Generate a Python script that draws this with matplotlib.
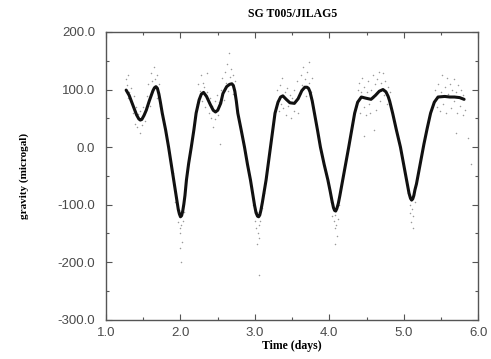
import numpy as np
import matplotlib.pyplot as plt
from matplotlib.ticker import MultipleLocator, FormatStrFormatter

# smoothed gravity curve (time in days, microgal)
curve_t = [1.27, 1.31, 1.36, 1.41, 1.44, 1.46, 1.48, 1.51, 1.54, 1.58, 1.63, 1.65, 1.67,
           1.69, 1.71, 1.73, 1.755,
           1.80, 1.84, 1.88, 1.91, 1.94, 1.955, 1.97, 1.985, 2.00, 2.015, 2.03, 2.045,
           2.06, 2.08, 2.11,
           2.145, 2.18, 2.21, 2.25, 2.28, 2.31, 2.35, 2.40, 2.44, 2.47, 2.50, 2.54, 2.57,
           2.62, 2.66, 2.69, 2.71, 2.73, 2.75, 2.77, 2.815, 2.86, 2.90, 2.94, 2.975, 2.995,
           3.015, 3.035, 3.05, 3.065, 3.08, 3.10, 3.125, 3.15, 3.18, 3.21, 3.24, 3.27,
           3.31, 3.345, 3.375, 3.42,
           3.47, 3.53, 3.58, 3.63, 3.67, 3.70, 3.72, 3.74, 3.77, 3.80, 3.84, 3.88, 3.93,
           3.98, 4.01, 4.035, 4.055, 4.07, 4.085, 4.10, 4.12, 4.14, 4.16, 4.18, 4.22,
           4.26, 4.30, 4.34, 4.38, 4.43,
           4.49, 4.56, 4.62, 4.67, 4.72, 4.76, 4.79, 4.81, 4.85, 4.90, 4.955, 5.005,
           5.04, 5.07, 5.09, 5.105, 5.12, 5.135, 5.15, 5.17, 5.19, 5.23, 5.27, 5.315,
           5.36, 5.41, 5.46, 5.55, 5.62, 5.68, 5.75, 5.81]
curve_g = [99, 90, 73, 56, 49, 47, 48, 55, 64, 80, 98, 103, 105,
           102, 92, 78, 59,
           30, 0, -33, -57, -83, -96, -108, -116, -121, -119, -111, -99,
           -84, -57, -28,
           0, 30, 59, 82, 92, 95, 88, 74, 64, 61, 64, 76, 93,
           105, 109, 110, 107, 97, 80, 59, 30, 0, -30, -57, -85, -101,
           -114, -120, -121, -118, -110, -96, -76, -57, -28, 0, 30, 59,
           78, 87, 89, 83,
           77, 76, 84, 98, 104, 104, 102, 96, 80, 59, 30, 0, -30,
           -57, -76, -93, -105, -110, -111, -107, -98, -85, -71, -57, -28,
           0, 30, 59, 78, 87,
           85, 83, 90, 97, 100, 96, 88, 80, 59, 30, 0, -35,
           -60, -80, -89, -92, -90, -84, -74, -64, -50, -22, 5, 33,
           59, 78, 87, 88, 87, 87, 86, 83]

# raw observations (faint dots)
dot_t = [1.27, 1.28, 1.29, 1.30, 1.31, 1.33, 1.34, 1.36, 1.37, 1.39, 1.40, 1.42, 1.43,
         1.45, 1.46, 1.48, 1.50, 1.52, 1.55, 1.57, 1.59, 1.61, 1.62, 1.64, 1.66, 1.68,
         1.69, 1.71, 1.73,
         1.90, 1.93, 1.96, 1.98, 1.99, 2.00, 2.01, 2.02, 2.00, 2.01, 2.03, 2.05,
         2.22, 2.24, 2.26, 2.27, 2.29, 2.30, 2.32, 2.33, 2.35, 2.36, 2.38, 2.40, 2.41,
         2.43, 2.44, 2.46, 2.47, 2.49, 2.51, 2.52, 2.54, 2.56, 2.58, 2.60, 2.61, 2.63,
         2.64, 2.65, 2.66, 2.68, 2.70, 2.71, 2.73, 2.75, 2.53,
         2.98, 3.00, 3.02, 3.03, 3.04, 3.05, 3.06, 3.07, 3.09, 3.03, 3.05, 3.12,
         3.30, 3.32, 3.34, 3.35, 3.37, 3.38, 3.40, 3.42, 3.43, 3.45, 3.47, 3.48, 3.50,
         3.52, 3.53, 3.55, 3.57, 3.58, 3.60, 3.62, 3.63, 3.65, 3.67, 3.68, 3.70, 3.72,
         3.73, 3.75, 3.77,
         4.02, 4.04, 4.06, 4.07, 4.08, 4.09, 4.10, 4.11, 4.13, 4.08,
         4.36, 4.38, 4.40, 4.41, 4.43, 4.44, 4.46, 4.47, 4.49, 4.50, 4.52, 4.53, 4.55,
         4.56, 4.58, 4.59, 4.61, 4.62, 4.64, 4.65, 4.67, 4.68, 4.70, 4.72, 4.73, 4.75,
         4.77, 4.79, 4.82, 4.60, 4.47,
         5.06, 5.08, 5.09, 5.10, 5.11, 5.12, 5.13, 5.15,
         5.42, 5.44, 5.46, 5.48, 5.50, 5.51, 5.53, 5.55, 5.57, 5.58, 5.60, 5.62, 5.63,
         5.65, 5.67, 5.68, 5.70, 5.72, 5.73, 5.75, 5.77, 5.79, 5.80, 5.82, 5.70, 5.86,
         5.90]
dot_g = [118, 108, 85, 125, 95, 78, 102, 60, 88, 40, 70, 35, 58,
         25, 62, 38, 70, 45, 88, 110, 72, 128, 115, 140, 118, 125,
         85, 110, 72,
         -45, -95, -130, -110, -140, -150, -135, -165, -175, -200, -128, -112,
         75, 110, 98, 125, 80, 112, 105, 70, 95, 128, 60, 85, 50,
         72, 35, 80, 48, 90, 55, 78, 100, 120, 82, 130, 112, 145,
         98, 163, 122, 135, 92, 125, 115, 80, 5,
         -100, -128, -140, -112, -150, -135, -158, -128, -105, -168, -222, -80,
         100, 62, 108, 75, 120, 68, 95, 55, 102, 72, 90, 50, 85,
         62, 100, 80, 115, 60, 92, 125, 108, 140, 118, 88, 130, 148,
         112, 95, 120,
         -95, -120, -128, -140, -118, -135, -155, -125, -100, -168,
         70, 100, 112, 60, 95, 120, 70, 105, 55, 95, 115, 75, 60,
         100, 125, 85, 110, 65, 118, 95, 130, 80, 112, 128, 90, 115,
         75, 105, 95, 30, 20,
         -80, -100, -115, -130, -108, -140, -120, -95,
         100, 70, 110, 62, 95, 125, 75, 105, 60, 120, 92, 110, 68,
         100, 118, 80, 95, 60, 108, 72, 100, 55, 90, 65, 25, 15,
         -30]

fig = plt.figure(figsize=(4.91, 3.59), dpi=100)
ax = fig.add_axes([0.216, 0.109, 0.758, 0.802])

ax.scatter(dot_t, dot_g, s=1.2, color='#9a9a9a', linewidths=0, zorder=1)
ax.plot(curve_t, curve_g, color='#111111', lw=2.2, solid_capstyle='round',
        solid_joinstyle='round', zorder=2)

ax.set_xlim(1.0, 6.0)
ax.set_ylim(-300, 200)
ax.xaxis.set_major_locator(MultipleLocator(1.0))
ax.xaxis.set_minor_locator(MultipleLocator(0.5))
ax.yaxis.set_major_locator(MultipleLocator(100))
ax.yaxis.set_minor_locator(MultipleLocator(50))
ax.xaxis.set_major_formatter(FormatStrFormatter('%.1f'))
ax.yaxis.set_major_formatter(FormatStrFormatter('%.1f'))
ax.tick_params(which='both', direction='in', top=True, right=True, color='#555555', width=0.8)
ax.tick_params(which='major', length=4)
ax.tick_params(which='minor', length=2.5)
ax.tick_params(axis='both', labelsize=9.5, labelcolor='#4a4a4a')
ax.tick_params(axis='x', pad=5)
ax.tick_params(axis='y', pad=8)
for lab in ax.get_xticklabels() + ax.get_yticklabels():
    lab.set_family('Liberation Sans')
for sp in ax.spines.values():
    sp.set_color('#555555')
    sp.set_linewidth(1.0)

ax.set_title('SG T005/JILAG5', fontfamily='Liberation Serif', fontweight='bold',
             fontsize=8.5, pad=11)
ax.set_xlabel('Time (days)', fontfamily='Liberation Serif', fontweight='bold',
              fontsize=8.5, labelpad=1)
ax.set_ylabel('gravity (microgal)', fontfamily='Liberation Serif', fontweight='bold',
              fontsize=8, labelpad=20)

fig.savefig('out.png', dpi=100)
